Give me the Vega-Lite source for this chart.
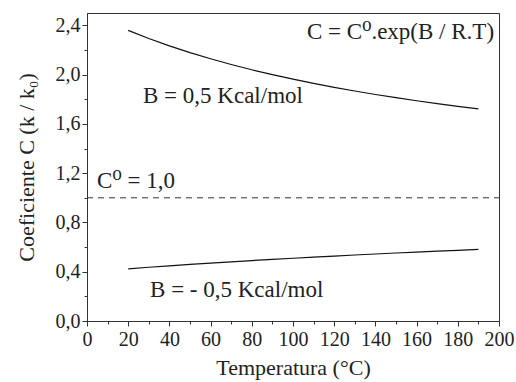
{
  "$schema": "https://vega.github.io/schema/vega-lite/v6.json",
  "width": 412,
  "height": 308,
  "autosize": {"type": "none"},
  "padding": {"left": 87, "top": 13, "right": 17, "bottom": 61},
  "background": "white",
  "config": {
    "view": {"stroke": "#333", "strokeWidth": 1},
    "font": "Liberation Serif, DejaVu Serif",
    "axis": {
      "labelFont": "Liberation Serif, DejaVu Serif",
      "titleFont": "Liberation Serif, DejaVu Serif",
      "labelFontSize": 20,
      "titleFontSize": 22,
      "titleFontWeight": "normal",
      "labelColor": "#222",
      "titleColor": "#222",
      "domainColor": "#333",
      "tickColor": "#333",
      "grid": false
    }
  },
  "datasets": {
    "curves": [
      {"T": 20, "C": 2.3594, "serie": "B = 0,5"}, {"T": 30, "C": 2.2933, "serie": "B = 0,5"},
      {"T": 40, "C": 2.2335, "serie": "B = 0,5"}, {"T": 50, "C": 2.1786, "serie": "B = 0,5"},
      {"T": 60, "C": 2.1283, "serie": "B = 0,5"}, {"T": 70, "C": 2.0820, "serie": "B = 0,5"},
      {"T": 80, "C": 2.0392, "serie": "B = 0,5"}, {"T": 90, "C": 1.9996, "serie": "B = 0,5"},
      {"T": 100, "C": 1.9627, "serie": "B = 0,5"}, {"T": 110, "C": 1.9285, "serie": "B = 0,5"},
      {"T": 120, "C": 1.8966, "serie": "B = 0,5"}, {"T": 130, "C": 1.8667, "serie": "B = 0,5"},
      {"T": 140, "C": 1.8387, "serie": "B = 0,5"}, {"T": 150, "C": 1.8124, "serie": "B = 0,5"},
      {"T": 160, "C": 1.7877, "serie": "B = 0,5"}, {"T": 170, "C": 1.7644, "serie": "B = 0,5"},
      {"T": 180, "C": 1.7425, "serie": "B = 0,5"}, {"T": 190, "C": 1.7217, "serie": "B = 0,5"},
      {"T": 20, "C": 0.4238, "serie": "B = -0,5"}, {"T": 30, "C": 0.4361, "serie": "B = -0,5"},
      {"T": 40, "C": 0.4477, "serie": "B = -0,5"}, {"T": 50, "C": 0.4590, "serie": "B = -0,5"},
      {"T": 60, "C": 0.4699, "serie": "B = -0,5"}, {"T": 70, "C": 0.4803, "serie": "B = -0,5"},
      {"T": 80, "C": 0.4904, "serie": "B = -0,5"}, {"T": 90, "C": 0.5001, "serie": "B = -0,5"},
      {"T": 100, "C": 0.5095, "serie": "B = -0,5"}, {"T": 110, "C": 0.5185, "serie": "B = -0,5"},
      {"T": 120, "C": 0.5273, "serie": "B = -0,5"}, {"T": 130, "C": 0.5357, "serie": "B = -0,5"},
      {"T": 140, "C": 0.5439, "serie": "B = -0,5"}, {"T": 150, "C": 0.5518, "serie": "B = -0,5"},
      {"T": 160, "C": 0.5594, "serie": "B = -0,5"}, {"T": 170, "C": 0.5668, "serie": "B = -0,5"},
      {"T": 180, "C": 0.5739, "serie": "B = -0,5"}, {"T": 190, "C": 0.5808, "serie": "B = -0,5"}
    ],
    "ref": [{"T": 0, "T2": 200, "C": 1.0}],
    "formula": [{"T": 197.6, "C": 2.287, "txt": "C = C⁰.exp(B / R.T)"}],
    "labels": [
      {"T": 27.2, "C": 1.768, "txt": "B = 0,5 Kcal/mol"},
      {"T": 4.9, "C": 1.079, "txt": "C⁰ = 1,0"},
      {"T": 30.6, "C": 0.195, "txt": "B = - 0,5 Kcal/mol"}
    ]
  },
  "resolve": {"axis": {"x": "independent", "y": "independent"}},
  "layer": [
    {
      "data": {"name": "curves"},
      "mark": {"type": "line", "color": "#111", "strokeWidth": 1.2},
      "encoding": {
        "x": {"field": "T", "type": "quantitative", "scale": {"domain": [0, 200], "nice": false},
          "axis": {"title": "Temperatura (°C)", "values": [0,20,40,60,80,100,120,140,160,180,200], "tickSize": 5, "labelPadding": 3, "titlePadding": 8, "labelFlush": false}},
        "y": {"field": "C", "type": "quantitative", "scale": {"domain": [0, 2.5], "nice": false},
          "axis": {"title": "Coeficiente C (k / k₀)", "values": [0,0.4,0.8,1.2,1.6,2.0,2.4], "tickSize": 5, "labelPadding": 2, "titlePadding": 17,
            "labelExpr": "replace(format(datum.value, '.1f'), '.', ',')"}},
        "detail": {"field": "serie"}
      }
    },
    {
      "data": {"name": "ref"},
      "mark": {"type": "rule", "color": "#333", "strokeWidth": 1, "strokeDash": [6, 5]},
      "encoding": {
        "x": {"field": "T", "type": "quantitative", "scale": {"domain": [0, 200], "nice": false},
          "axis": {"orient": "bottom", "values": [10,30,50,70,90,110,130,150,170,190], "labels": false, "tickSize": 3, "domain": false, "title": null}},
        "x2": {"field": "T2"},
        "y": {"field": "C", "type": "quantitative", "scale": {"domain": [0, 2.5], "nice": false},
          "axis": {"orient": "left", "values": [0.2,0.6,1.0,1.4,1.8,2.2], "labels": false, "tickSize": 3, "domain": false, "title": null}}
      }
    },
    {
      "data": {"name": "labels"},
      "mark": {"type": "text", "align": "left", "baseline": "alphabetic", "font": "Liberation Serif, DejaVu Serif", "fontSize": 23, "color": "#222"},
      "encoding": {
        "x": {"field": "T", "type": "quantitative", "axis": null},
        "y": {"field": "C", "type": "quantitative", "axis": null},
        "text": {"field": "txt"}
      }
    },
    {
      "data": {"name": "formula"},
      "mark": {"type": "text", "align": "right", "baseline": "alphabetic", "font": "Liberation Serif, DejaVu Serif", "fontSize": 23, "color": "#222"},
      "encoding": {
        "x": {"field": "T", "type": "quantitative", "axis": null},
        "y": {"field": "C", "type": "quantitative", "axis": null},
        "text": {"field": "txt"}
      }
    }
  ]
}
